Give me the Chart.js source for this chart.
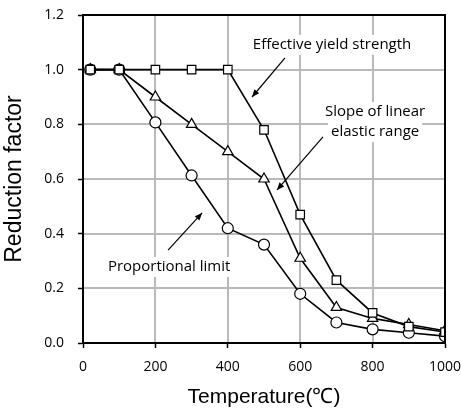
<!DOCTYPE html>
<html>
<head>
<meta charset="utf-8">
<script src="https://cdn.jsdelivr.net/npm/chart.js@4.4.1/dist/chart.umd.min.js"></script>
<style>
  html, body { margin: 0; padding: 0; background: #fff; }
  #wrap { width: 461px; height: 410px; }
</style>
</head>
<body>
<div id="wrap"><canvas id="myChart"></canvas></div>
<script>
const temperatures = [20, 100, 200, 300, 400, 500, 600, 700, 800, 900, 1000];
const yieldStrength = [1, 1, 1, 1, 1, 0.78, 0.47, 0.23, 0.11, 0.06, 0.04];
const elasticSlope = [1, 1, 0.9, 0.8, 0.7, 0.6, 0.31, 0.13, 0.09, 0.0675, 0.045];
const propLimit = [1, 1, 0.807, 0.613, 0.42, 0.36, 0.18, 0.075, 0.05, 0.0375, 0.025];
const xTicks = [0, 200, 400, 600, 800, 1000];
const yTicks = [0, 0.2, 0.4, 0.6, 0.8, 1.0, 1.2];

// text labels + arrows, in data coordinates
const notes = [
    { lines: ['Effective yield strength'], x: 688, y: 1.091, from: [558, 1.043], to: [467, 0.900] },
    { lines: ['Slope of linear', 'elastic range'], x: 807, y: 0.808, from: [663, 0.754], to: [536, 0.560] },
    { lines: ['Proportional limit'], x: 238, y: 0.278, from: [235, 0.340], to: [329, 0.476] }
];

const FONT = "'Open Sans', sans-serif";
const TITLE_FONT = "'Liberation Sans', Arial, sans-serif";

function series(vals) {
    return temperatures.map((t, i) => ({ x: t, y: vals[i] }));
}

function makeSet(label, vals, style) {
    return {
        label: label,
        data: series(vals),
        fill: false,
        borderColor: '#000',
        borderWidth: 1.6,
        backgroundColor: '#fff',
        pointStyle: style,
        pointRadius: style === 'circle' ? 5.5 : 6,
        pointBorderWidth: 1.2,
        pointBackgroundColor: '#fff',
        pointBorderColor: '#000',
        tension: 0
    };
}

// drop the extra room chart.js keeps for the edge tick labels
function noEdgePad(s) {
    s.paddingTop = 0;
    s.paddingBottom = 0;
    s.paddingLeft = 0;
    s.paddingRight = 0;
}

// frame, grid and the labelled arrows
const framePlugin = {
    id: 'frame',
    beforeDatasetsDraw(chart) {
        const c = chart.ctx, a = chart.chartArea;
        const xs = chart.scales.x, ys = chart.scales.y;
        c.save();
        c.strokeStyle = '#bababa';
        c.lineWidth = 2;
        c.beginPath();
        xTicks.forEach(v => {
            const px = Math.round(xs.getPixelForValue(v));
            c.moveTo(px, a.top);
            c.lineTo(px, a.bottom);
        });
        yTicks.forEach(v => {
            const py = Math.round(ys.getPixelForValue(v));
            c.moveTo(a.left, py);
            c.lineTo(a.right, py);
        });
        c.stroke();
        c.restore();
    },
    afterDatasetsDraw(chart) {
        const c = chart.ctx, a = chart.chartArea;
        const xs = chart.scales.x, ys = chart.scales.y;
        c.save();
        c.font = '15px ' + FONT;
        c.textAlign = 'center';
        c.textBaseline = 'middle';
        notes.forEach(n => {
            const cx = xs.getPixelForValue(n.x);
            const cy = ys.getPixelForValue(n.y);
            const lh = 20;
            const y0 = cy - (n.lines.length - 1) * lh / 2;
            n.lines.forEach((t, i) => {
                const w = c.measureText(t).width;
                c.fillStyle = '#fff';
                c.fillRect(cx - w / 2 - 3, y0 + i * lh - 10, w + 6, 20);
                c.fillStyle = '#000';
                c.fillText(t, cx, y0 + i * lh);
            });
            const x1 = xs.getPixelForValue(n.from[0]), y1 = ys.getPixelForValue(n.from[1]);
            const x2 = xs.getPixelForValue(n.to[0]), y2 = ys.getPixelForValue(n.to[1]);
            const ang = Math.atan2(y2 - y1, x2 - x1);
            c.strokeStyle = '#000';
            c.lineWidth = 1.2;
            c.beginPath();
            c.moveTo(x1, y1);
            c.lineTo(x2, y2);
            c.stroke();
            c.beginPath();
            c.moveTo(x2, y2);
            c.lineTo(x2 - 8 * Math.cos(ang - 0.4), y2 - 8 * Math.sin(ang - 0.4));
            c.lineTo(x2 - 8 * Math.cos(ang + 0.4), y2 - 8 * Math.sin(ang + 0.4));
            c.closePath();
            c.fillStyle = '#000';
            c.fill();
        });
        c.strokeStyle = '#000';
        c.lineWidth = 2;
        c.strokeRect(a.left, a.top, a.right - a.left, a.bottom - a.top);
        c.restore();
    }
};

const ctx = document.getElementById('myChart');
const myChart = new Chart(ctx, {
    type: 'line',
    data: {
        datasets: [
            makeSet('Effective yield strength', yieldStrength, 'rect'),
            makeSet('Slope of linear elastic range', elasticSlope, 'triangle'),
            makeSet('Proportional limit', propLimit, 'circle')
        ]
    },
    options: {
        responsive: true,
        maintainAspectRatio: false,
        animation: false,
        layout: { padding: { top: 15, right: 16, left: 0, bottom: 0 } },
        scales: {
            x: {
                type: 'linear',
                min: 0,
                max: 1000,
                afterBuildTicks: s => { s.ticks = xTicks.map(v => ({ value: v })); },
                afterFit: s => { s.height = 67; noEdgePad(s); },
                ticks: { color: '#000', font: { family: FONT, size: 14 }, padding: 11, callback: v => String(v) },
                grid: { drawOnChartArea: false, tickLength: 5, tickColor: '#000', tickWidth: 1.5 },
                border: { color: '#000', width: 2 },
                title: { display: true, text: 'Temperature(℃)', color: '#000', font: { family: TITLE_FONT, size: 21 }, padding: { top: 0, bottom: 0 } }
            },
            y: {
                min: 0,
                max: 1.2,
                afterBuildTicks: s => { s.ticks = yTicks.map(v => ({ value: v })); },
                afterFit: s => { s.width = 83; noEdgePad(s); },
                ticks: { color: '#000', font: { family: FONT, size: 14 }, padding: 14, callback: v => v.toFixed(1) },
                grid: { drawOnChartArea: false, tickLength: 5, tickColor: '#000', tickWidth: 1.5 },
                border: { color: '#000', width: 2 },
                title: { display: true, text: 'Reduction factor', color: '#000', font: { family: TITLE_FONT, size: 23 }, padding: { top: 1, bottom: 0 } }
            }
        },
        plugins: {
            legend: { display: false },
            tooltip: { enabled: false }
        }
    },
    plugins: [framePlugin]
});
</script>
</body>
</html>
